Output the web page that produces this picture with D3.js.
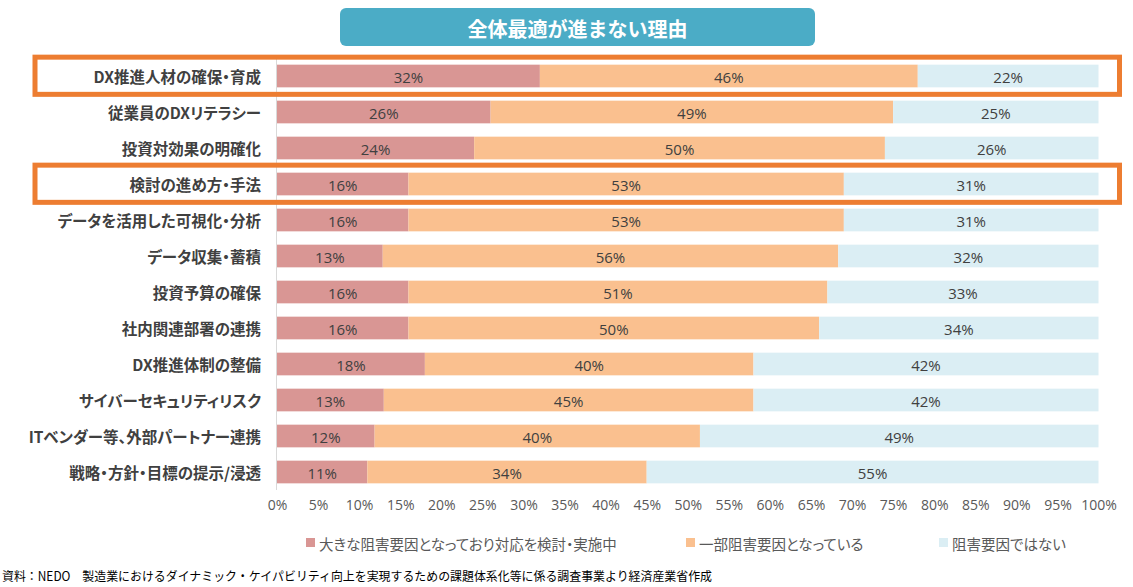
<!DOCTYPE html>
<html><head><meta charset="utf-8">
<script src="https://cdn.jsdelivr.net/npm/d3@7"></script>
<style>
html,body{margin:0;padding:0;background:#fff;}
svg{display:block;font-family:"Noto Sans CJK JP","Noto Sans",sans-serif;}
.jp{font-feature-settings:"palt";}
</style></head>
<body><svg id="c" width="1133" height="587"></svg>
<script>
const categories = ["DX推進人材の確保・育成","従業員のDXリテラシー","投資対効果の明確化","検討の進め方・手法","データを活用した可視化・分析","データ収集・蓄積","投資予算の確保","社内関連部署の連携","DX推進体制の整備","サイバーセキュリティリスク","ITベンダー等、外部パートナー連携","戦略・方針・目標の提示/浸透"];
const seriesNames = ["大きな阻害要因となっており対応を検討・実施中","一部阻害要因となっている","阻害要因ではない"];
const major = [32,26,24,16,16,13,16,16,18,13,12,11];
const partial = [46,49,50,53,53,56,51,50,40,45,40,34];
const none = [22,25,26,31,31,32,33,34,42,42,49,55];
const tickValues = [0,5,10,15,20,25,30,35,40,45,50,55,60,65,70,75,80,85,90,95,100];
const highlighted = ["DX推進人材の確保・育成","検討の進め方・手法"];
const title = "全体最適が進まない理由";
const source = "資料：NEDO　製造業におけるダイナミック・ケイパビリティ向上を実現するための課題体系化等に係る調査事業より経済産業省作成";
const colors = ["#D99694","#FAC08F","#DBEEF4"];

const svg = d3.select("#c");
const rows = categories.map((c,i)=>({cat:c, s0:major[i], s1:partial[i], s2:none[i]}));
const keys = ["s0","s1","s2"];
const stacked = d3.stack().keys(keys).offset(d3.stackOffsetExpand)(rows);

const x = d3.scaleLinear().domain([0,1]).range([277,1098.5]);
const y = d3.scaleBand().domain(categories).range([58,490]).paddingInner(0.37).paddingOuter(0.185);

// title box
svg.append("rect").attr("x",340).attr("y",8).attr("width",475).attr("height",38).attr("rx",6).attr("fill","#4BACC6");
svg.append("text").attr("x",577.5).attr("y",28).attr("text-anchor","middle").attr("dominant-baseline","central")
  .attr("fill","#fff").attr("font-weight","bold").attr("font-size",20).text(title);

// bars
const g = svg.append("g");
stacked.forEach((layer,li)=>{
  g.selectAll(null).data(layer).enter().append("rect")
    .attr("x",d=>x(d[0])).attr("width",d=>x(Math.min(d[1],1))-x(d[0]))
    .attr("y",d=>y(d.data.cat)).attr("height",y.bandwidth())
    .attr("fill",colors[li]);
  g.selectAll(null).data(layer).enter().append("text")
    .attr("x",d=>(x(d[0])+x(Math.min(d[1],1)))/2)
    .attr("y",d=>y(d.data.cat)+y.bandwidth()/2+1)
    .attr("text-anchor","middle").attr("dominant-baseline","central")
    .attr("font-size",15).attr("fill","#404040")
    .attr("font-family","'Open Sans','Noto Sans',sans-serif")
    .text(d=>d.data[keys[li]]+"%");
});

// axis line
svg.append("line").attr("x1",276.5).attr("x2",276.5).attr("y1",58).attr("y2",490).attr("stroke","#d9d9d9").attr("stroke-width",1);

// category labels
svg.append("g").selectAll("text").data(categories).enter().append("text")
  .attr("class","jp")
  .attr("x",261).attr("y",d=>y(d)+y.bandwidth()/2)
  .attr("text-anchor","end").attr("dominant-baseline","central")
  .attr("font-size",15.5).attr("font-weight","bold").attr("fill","#404040")
  .text(d=>d);

// x axis
const xa = svg.append("g").attr("transform","translate(0,497)")
  .call(d3.axisBottom(x).tickValues(tickValues.map(v=>v/100)).tickSize(0).tickFormat((d,i)=>tickValues[i]+"%"));
xa.select(".domain").remove();
xa.selectAll("text").attr("font-size",14).attr("fill","#595959").attr("font-family","'Open Sans','Noto Sans',sans-serif");

// highlight boxes
highlighted.forEach(c=>{
  const top = y(c) - 7.5, bot = y(c)+y.bandwidth()+7;
  svg.append("rect").attr("x",35).attr("y",top).attr("width",1084.5).attr("height",bot-top)
    .attr("fill","none").attr("stroke","#ED7D31").attr("stroke-width",5);
});

// legend
const legX = [306,686,939];
seriesNames.forEach((n,i)=>{
  const lg = svg.append("g").attr("transform",`translate(${legX[i]},543)`);
  lg.append("rect").attr("x",0).attr("y",-5).attr("width",9).attr("height",9).attr("fill",colors[i]);
  lg.append("text").attr("class","jp").attr("x",13).attr("y",0).attr("dominant-baseline","central")
    .attr("font-size",14.5).attr("fill","#595959").text(n);
});

// source
svg.append("text").attr("x",2).attr("y",575).attr("dominant-baseline","central")
  .attr("font-size",12.5).attr("fill","#000")
  .attr("textLength",710).attr("lengthAdjust","spacingAndGlyphs").text(source);
</script></body></html>
